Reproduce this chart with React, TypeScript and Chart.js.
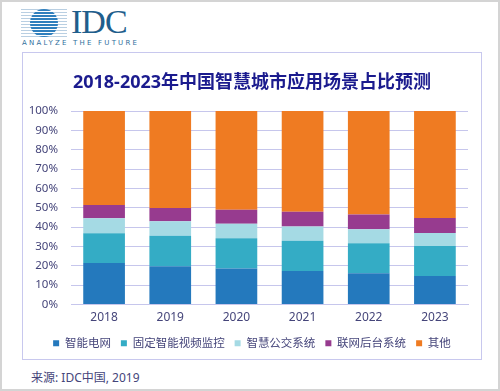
import React, { useEffect, useRef } from "react";
import { Chart, registerables } from "chart.js";

Chart.register(...registerables);

const categories = ["2018", "2019", "2020", "2021", "2022", "2023"];
const seriesNames = ["智能电网", "固定智能视频监控", "智慧公交系统", "联网后台系统", "其他"];
const smartGrid = [21.4, 19.8, 18.6, 17.3, 16.1, 14.7];
const videoSurveillance = [15.4, 15.7, 15.7, 15.6, 15.6, 15.5];
const smartBus = [7.8, 7.6, 7.4, 7.4, 7.2, 6.8];
const networkBackend = [6.9, 6.8, 7.3, 7.6, 7.6, 7.7];
const others = [48.5, 50.1, 51.0, 52.1, 53.5, 55.3];
const seriesColors = ["#2479BD", "#34ACC5", "#A5DAE4", "#973B8F", "#EF7B22"];
const yTicks = [0, 10, 20, 30, 40, 50, 60, 70, 80, 90, 100];

const FONT = "'Segoe UI', 'Noto Sans', 'Noto Sans CJK SC', sans-serif";
const TEXT = "#45457A";

export default function App() {
  const canvasRef = useRef<HTMLCanvasElement | null>(null);

  useEffect(() => {
    const canvas = canvasRef.current;
    if (!canvas) return;
    const values = [smartGrid, videoSurveillance, smartBus, networkBackend, others];
    const chart = new Chart(canvas, {
      type: "bar",
      data: {
        labels: categories,
        datasets: seriesNames.map((name, i) => ({
          label: name,
          data: values[i],
          backgroundColor: seriesColors[i],
          borderWidth: 0,
          barPercentage: 0.63,
          categoryPercentage: 1,
        })),
      },
      options: {
        responsive: false,
        animation: false,
        layout: { padding: { left: 0, right: 0, top: 6, bottom: 9 } },
        plugins: {
          title: {
            display: true,
            text: "2018-2023年中国智慧城市应用场景占比预测",
            color: "#1B1B8E",
            font: { family: FONT, size: 18, weight: "bold" },
            padding: { top: 14, bottom: 17.5 },
          },
          legend: {
            position: "bottom",
            labels: {
              boxWidth: 6,
              boxHeight: 6,
              padding: 10,
              color: TEXT,
              font: { family: FONT, size: 11.5 },
            },
          },
          tooltip: { enabled: false },
        },
        scales: {
          x: {
            stacked: true,
            grid: { display: false, drawTicks: false },
            border: { display: true, color: "#C6C6EC", width: 1 },
            ticks: { color: TEXT, font: { family: FONT, size: 12 }, padding: 6 },
            afterFit: (axis: any) => {
              axis.height = 23;
            },
          },
          y: {
            stacked: true,
            min: 0,
            max: 100,
            afterBuildTicks: (axis: any) => {
              axis.ticks = yTicks.map((v) => ({ value: v }));
            },
            afterFit: (axis: any) => {
              axis.width = 49;
            },
            grid: { color: "#C6C6EC", lineWidth: 1, drawTicks: false },
            border: { display: false },
            ticks: {
              autoSkip: false,
              color: TEXT,
              font: { family: FONT, size: 11.5 },
              padding: 13,
              callback: (v: any) => v + "%",
            },
          },
          yRight: {
            position: "right",
            display: true,
            min: 0,
            max: 100,
            grid: { display: false, drawTicks: false },
            border: { display: false },
            ticks: { display: false },
            afterFit: (axis: any) => {
              axis.width = 14;
            },
          },
        },
      },
    });
    return () => chart.destroy();
  }, []);

  return (
    <div
      style={{
        position: "fixed",
        left: 0,
        top: 0,
        width: 500,
        height: 391,
        boxSizing: "border-box",
        border: "2px solid #D4D4D4",
        background: "#fff",
        overflow: "hidden",
        fontFamily: FONT,
      }}
    >
      {/* logo stripes */}
      <div
        style={{
          position: "absolute",
          left: 19,
          top: 7,
          width: 46,
          height: 28,
          background:
            "repeating-linear-gradient(to bottom, #B9CFE2 0px, #B9CFE2 1px, transparent 1px, transparent 3px)",
        }}
      />
      <div
        style={{
          position: "absolute",
          left: 28,
          top: 7,
          width: 28,
          height: 28,
          borderRadius: "50%",
          background:
            "repeating-linear-gradient(to bottom, #2F7FBD 0px, #2F7FBD 2px, #ffffff 2px, #ffffff 3px)",
        }}
      />
      <div
        style={{
          position: "absolute",
          left: 69,
          top: -2,
          fontFamily: "'Liberation Serif', 'DejaVu Serif', serif",
          fontSize: 34,
          color: "#1F5E8C",
          letterSpacing: -1,
          lineHeight: "44px",
        }}
      >
        IDC
      </div>
      <div
        style={{
          position: "absolute",
          left: 20,
          top: 36,
          fontFamily: "'DejaVu Sans', sans-serif",
          fontSize: 7,
          color: "#2E6E9C",
          letterSpacing: 2.2,
          lineHeight: "10px",
          whiteSpace: "nowrap",
        }}
      >
        ANALYZE THE FUTURE
      </div>
      {/* inner box */}
      <div
        style={{
          position: "absolute",
          left: 20,
          top: 50,
          width: 460,
          height: 308,
          boxSizing: "border-box",
          border: "1px solid #C8C8EE",
        }}
      />
      <canvas
        ref={canvasRef}
        width={460}
        height={316}
        style={{ position: "absolute", left: 20, top: 50, width: 460, height: 316 }}
      />
      <div
        style={{
          position: "absolute",
          left: 29,
          top: 368,
          fontSize: 12,
          color: TEXT,
          lineHeight: "16px",
          whiteSpace: "nowrap",
        }}
      >
        来源: IDC中国, 2019
      </div>
    </div>
  );
}
